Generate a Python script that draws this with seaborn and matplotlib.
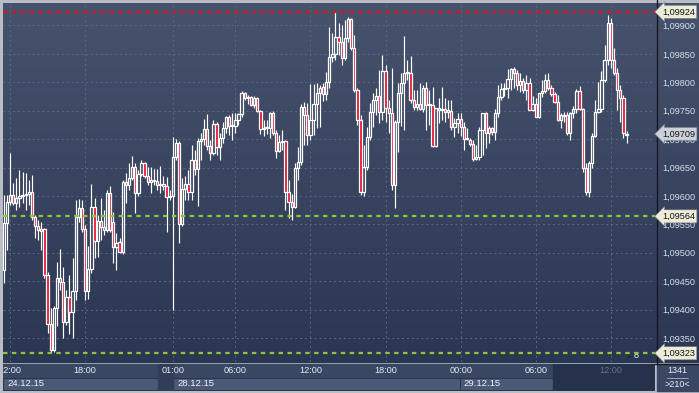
import matplotlib
matplotlib.use("Agg")
import matplotlib.pyplot as plt
import matplotlib.transforms as mtransforms
from matplotlib.colors import LinearSegmentedColormap
from matplotlib.patches import Rectangle
import numpy as np
import pandas as pd
import seaborn as sns

# ---------------- data (EURUSD-like M15 candles) ----------------
open_ = [
    1.09470, 1.09552, 1.09589, 1.09602, 1.09588, 1.09596, 1.09600, 1.09602, 1.09603, 1.09607,
    1.09563, 1.09547, 1.09538, 1.09542, 1.09461, 1.09375, 1.09329, 1.09403, 1.09455, 1.09448,
    1.09378, 1.09422, 1.09396, 1.09433, 1.09563, 1.09579, 1.09542, 1.09433, 1.09471, 1.09581,
    1.09521, 1.09556, 1.09545, 1.09540, 1.09605, 1.09554, 1.09510, 1.09519, 1.09501, 1.09624,
    1.09619, 1.09631, 1.09651, 1.09605, 1.09639, 1.09658, 1.09635, 1.09624, 1.09628, 1.09626,
    1.09619, 1.09621, 1.09617, 1.09598, 1.09600, 1.09668, 1.09693, 1.09551, 1.09612, 1.09621,
    1.09607, 1.09663, 1.09647, 1.09697, 1.09700, 1.09718, 1.09688, 1.09676, 1.09727, 1.09686,
    1.09702, 1.09720, 1.09739, 1.09723, 1.09723, 1.09734, 1.09744, 1.09781, 1.09772, 1.09774,
    1.09760, 1.09772, 1.09750, 1.09718, 1.09720, 1.09720, 1.09746, 1.09711, 1.09679, 1.09695,
    1.09697, 1.09607, 1.09589, 1.09581, 1.09649, 1.09660, 1.09757, 1.09742, 1.09707, 1.09734,
    1.09762, 1.09781, 1.09792, 1.09779, 1.09801, 1.09845, 1.09850, 1.09880, 1.09871, 1.09843,
    1.09878, 1.09912, 1.09860, 1.09786, 1.09734, 1.09607, 1.09651, 1.09704, 1.09748, 1.09769,
    1.09776, 1.09748, 1.09820, 1.09755, 1.09746, 1.09619, 1.09730, 1.09781, 1.09799, 1.09816,
    1.09816, 1.09769, 1.09757, 1.09762, 1.09753, 1.09790, 1.09760, 1.09760, 1.09688, 1.09755,
    1.09751, 1.09753, 1.09748, 1.09750, 1.09721, 1.09728, 1.09735, 1.09721, 1.09700, 1.09698,
    1.09691, 1.09665, 1.09668, 1.09716, 1.09746, 1.09711, 1.09720, 1.09712, 1.09746, 1.09774,
    1.09788, 1.09790, 1.09806, 1.09823, 1.09816, 1.09795, 1.09802, 1.09786, 1.09799, 1.09751,
    1.09762, 1.09739, 1.09781, 1.09785, 1.09804, 1.09790, 1.09779, 1.09765, 1.09734, 1.09742,
    1.09742, 1.09711, 1.09746, 1.09753, 1.09785, 1.09753, 1.09649, 1.09607, 1.09658, 1.09706,
    1.09748, 1.09753, 1.09804, 1.09839, 1.09904, 1.09839, 1.09816, 1.09786, 1.09772, 1.09707,
]
high = [
    1.09602, 1.09602, 1.09676, 1.09623, 1.09632, 1.09646, 1.09642, 1.09640, 1.09628, 1.09637,
    1.09566, 1.09558, 1.09554, 1.09543, 1.09466, 1.09403, 1.09406, 1.09484, 1.09506, 1.09475,
    1.09434, 1.09461, 1.09491, 1.09593, 1.09595, 1.09593, 1.09549, 1.09512, 1.09621, 1.09596,
    1.09566, 1.09596, 1.09575, 1.09610, 1.09617, 1.09572, 1.09535, 1.09526, 1.09628, 1.09640,
    1.09658, 1.09670, 1.09658, 1.09646, 1.09663, 1.09660, 1.09651, 1.09651, 1.09647, 1.09647,
    1.09653, 1.09635, 1.09633, 1.09610, 1.09704, 1.09700, 1.09697, 1.09631, 1.09635, 1.09646,
    1.09690, 1.09681, 1.09702, 1.09711, 1.09735, 1.09744, 1.09698, 1.09734, 1.09730, 1.09711,
    1.09730, 1.09741, 1.09742, 1.09746, 1.09746, 1.09746, 1.09785, 1.09783, 1.09778, 1.09776,
    1.09776, 1.09774, 1.09751, 1.09734, 1.09734, 1.09748, 1.09750, 1.09716, 1.09707, 1.09716,
    1.09698, 1.09628, 1.09603, 1.09658, 1.09686, 1.09762, 1.09765, 1.09764, 1.09797, 1.09797,
    1.09799, 1.09795, 1.09799, 1.09818, 1.09897, 1.09887, 1.09924, 1.09904, 1.09901, 1.09910,
    1.09915, 1.09913, 1.09883, 1.09790, 1.09742, 1.09690, 1.09721, 1.09764, 1.09781, 1.09790,
    1.09822, 1.09848, 1.09830, 1.09769, 1.09825, 1.09734, 1.09799, 1.09816, 1.09882, 1.09839,
    1.09846, 1.09786, 1.09786, 1.09799, 1.09795, 1.09801, 1.09786, 1.09792, 1.09755, 1.09772,
    1.09792, 1.09772, 1.09769, 1.09769, 1.09737, 1.09746, 1.09746, 1.09730, 1.09720, 1.09702,
    1.09698, 1.09690, 1.09721, 1.09746, 1.09748, 1.09723, 1.09721, 1.09753, 1.09795, 1.09799,
    1.09799, 1.09823, 1.09825, 1.09827, 1.09822, 1.09816, 1.09808, 1.09813, 1.09808, 1.09776,
    1.09772, 1.09781, 1.09804, 1.09815, 1.09816, 1.09795, 1.09783, 1.09778, 1.09746, 1.09748,
    1.09748, 1.09748, 1.09758, 1.09788, 1.09793, 1.09755, 1.09658, 1.09661, 1.09711, 1.09769,
    1.09801, 1.09820, 1.09866, 1.09919, 1.09913, 1.09860, 1.09825, 1.09795, 1.09778, 1.09714,
]
low = [
    1.09447, 1.09505, 1.09584, 1.09584, 1.09575, 1.09581, 1.09588, 1.09575, 1.09584, 1.09558,
    1.09526, 1.09522, 1.09505, 1.09455, 1.09359, 1.09323, 1.09325, 1.09371, 1.09434, 1.09350,
    1.09373, 1.09357, 1.09350, 1.09417, 1.09554, 1.09536, 1.09417, 1.09419, 1.09464, 1.09491,
    1.09492, 1.09522, 1.09531, 1.09536, 1.09536, 1.09482, 1.09470, 1.09500, 1.09498, 1.09588,
    1.09610, 1.09628, 1.09570, 1.09600, 1.09635, 1.09631, 1.09619, 1.09605, 1.09619, 1.09610,
    1.09605, 1.09610, 1.09536, 1.09593, 1.09399, 1.09663, 1.09517, 1.09547, 1.09593, 1.09593,
    1.09593, 1.09637, 1.09582, 1.09663, 1.09690, 1.09681, 1.09663, 1.09672, 1.09672, 1.09663,
    1.09693, 1.09711, 1.09707, 1.09698, 1.09711, 1.09725, 1.09739, 1.09769, 1.09762, 1.09758,
    1.09755, 1.09748, 1.09709, 1.09706, 1.09709, 1.09702, 1.09707, 1.09667, 1.09677, 1.09681,
    1.09575, 1.09561, 1.09558, 1.09579, 1.09628, 1.09654, 1.09690, 1.09690, 1.09698, 1.09707,
    1.09720, 1.09721, 1.09767, 1.09769, 1.09790, 1.09836, 1.09839, 1.09848, 1.09831, 1.09839,
    1.09871, 1.09857, 1.09783, 1.09725, 1.09602, 1.09600, 1.09646, 1.09698, 1.09721, 1.09742,
    1.09728, 1.09734, 1.09730, 1.09711, 1.09610, 1.09579, 1.09677, 1.09723, 1.09716, 1.09804,
    1.09764, 1.09751, 1.09751, 1.09751, 1.09748, 1.09716, 1.09725, 1.09686, 1.09686, 1.09728,
    1.09734, 1.09730, 1.09737, 1.09716, 1.09704, 1.09711, 1.09706, 1.09681, 1.09698, 1.09688,
    1.09661, 1.09663, 1.09663, 1.09672, 1.09684, 1.09693, 1.09707, 1.09698, 1.09739, 1.09769,
    1.09776, 1.09772, 1.09786, 1.09790, 1.09786, 1.09783, 1.09781, 1.09769, 1.09751, 1.09750,
    1.09739, 1.09737, 1.09774, 1.09781, 1.09786, 1.09776, 1.09764, 1.09732, 1.09720, 1.09730,
    1.09707, 1.09698, 1.09737, 1.09746, 1.09751, 1.09642, 1.09602, 1.09598, 1.09649, 1.09704,
    1.09746, 1.09748, 1.09801, 1.09831, 1.09825, 1.09813, 1.09751, 1.09730, 1.09702, 1.09693,
]
close = [
    1.09552, 1.09589, 1.09602, 1.09588, 1.09596, 1.09600, 1.09602, 1.09603, 1.09607, 1.09563,
    1.09547, 1.09540, 1.09542, 1.09461, 1.09375, 1.09329, 1.09403, 1.09455, 1.09448, 1.09378,
    1.09422, 1.09396, 1.09433, 1.09563, 1.09579, 1.09542, 1.09433, 1.09471, 1.09581, 1.09521,
    1.09556, 1.09545, 1.09540, 1.09605, 1.09540, 1.09510, 1.09517, 1.09501, 1.09624, 1.09619,
    1.09631, 1.09651, 1.09605, 1.09639, 1.09658, 1.09635, 1.09624, 1.09628, 1.09626, 1.09619,
    1.09621, 1.09617, 1.09598, 1.09600, 1.09668, 1.09693, 1.09551, 1.09612, 1.09621, 1.09607,
    1.09663, 1.09647, 1.09697, 1.09700, 1.09718, 1.09688, 1.09676, 1.09727, 1.09686, 1.09702,
    1.09720, 1.09739, 1.09723, 1.09725, 1.09734, 1.09744, 1.09781, 1.09772, 1.09774, 1.09760,
    1.09772, 1.09750, 1.09718, 1.09720, 1.09721, 1.09746, 1.09711, 1.09679, 1.09695, 1.09697,
    1.09607, 1.09589, 1.09581, 1.09649, 1.09660, 1.09757, 1.09742, 1.09707, 1.09734, 1.09762,
    1.09781, 1.09790, 1.09779, 1.09801, 1.09845, 1.09850, 1.09880, 1.09871, 1.09843, 1.09878,
    1.09912, 1.09860, 1.09786, 1.09734, 1.09607, 1.09651, 1.09704, 1.09748, 1.09769, 1.09776,
    1.09748, 1.09820, 1.09755, 1.09746, 1.09619, 1.09730, 1.09781, 1.09799, 1.09816, 1.09818,
    1.09769, 1.09757, 1.09762, 1.09753, 1.09790, 1.09760, 1.09762, 1.09688, 1.09755, 1.09751,
    1.09753, 1.09748, 1.09751, 1.09721, 1.09728, 1.09735, 1.09721, 1.09700, 1.09702, 1.09691,
    1.09665, 1.09668, 1.09716, 1.09746, 1.09711, 1.09720, 1.09712, 1.09746, 1.09774, 1.09788,
    1.09790, 1.09806, 1.09823, 1.09816, 1.09795, 1.09802, 1.09786, 1.09799, 1.09751, 1.09762,
    1.09739, 1.09781, 1.09785, 1.09804, 1.09790, 1.09779, 1.09765, 1.09734, 1.09742, 1.09741,
    1.09711, 1.09746, 1.09753, 1.09785, 1.09753, 1.09649, 1.09607, 1.09658, 1.09706, 1.09748,
    1.09753, 1.09804, 1.09839, 1.09904, 1.09839, 1.09816, 1.09786, 1.09772, 1.09711, 1.09709,
]

price_ticks = [1.09350, 1.09400, 1.09450, 1.09500, 1.09550, 1.09600,
               1.09650, 1.09700, 1.09750, 1.09800, 1.09850, 1.09900]
time_tick_pos = [2, 26, 54, 74, 98, 122, 146, 170, 194]
time_tick_labels = ["12:00", "18:00", "01:00", "06:00", "12:00",
                    "18:00", "00:00", "06:00", "12:00"]
date_pos = [1.3, 55.6, 147.0]
date_labels = ["24.12.15", "28.12.15", "29.12.15"]
level_resistance = 1.09924
level_supports = [1.09564, 1.09323]
last_price = 1.09709
bars_total_label = "1341"
bars_visible_label = ">210<"
shift_label = "8"

# ---------------- style ----------------
sns.set_theme(style="dark")
plt.rcParams["font.family"] = ["Liberation Sans", "DejaVu Sans"]

W, H = 699, 393
fig = plt.figure(figsize=(W / 100, H / 100), dpi=100, facecolor="#b8bdc6")


def frac(x0, y0, x1, y1):
    return [x0 / W, 1 - y1 / H, (x1 - x0) / W, (y1 - y0) / H]


# background (pixel coordinates)
axbg = fig.add_axes([0, 0, 1, 1], zorder=0)
axbg.set_axis_off()
grad = np.linspace(0, 1, 256).reshape(-1, 1)
cmap_bg = LinearSegmentedColormap.from_list("bg", ["#47536d", "#2b3752"])
axbg.imshow(grad, extent=(3, 699, 363, 3), aspect="auto", cmap=cmap_bg,
            interpolation="bilinear")
axbg.add_patch(Rectangle((657, 364), 42, 27, color="#3a4763"))
axbg.plot([656.5, 656.5], [0, 364], color="#131926", lw=1.0)
axbg.plot([3, 699], [363.5, 363.5], color="#131926", lw=1.0)
axbg.text(677.5, 370.5, bars_total_label, color="#e8edf5", fontsize=6.5,
          ha="center", va="center")
axbg.plot([667, 688], [377.5, 377.5], color="#a9b2c4", lw=0.6)
axbg.text(677.5, 384.5, bars_visible_label, color="#e8edf5", fontsize=6.5,
          ha="center", va="center")
axbg.text(629, 357, "\u25b2", color="#1f273b", fontsize=4.5, ha="center", va="center")
axbg.text(636.5, 356, shift_label, color="#f0f0f0", fontsize=6.5, ha="center", va="center")
axbg.set_xlim(0, W)
axbg.set_ylim(H, 0)

# main price axes
ax = fig.add_axes(frac(3, 3, 655, 362), zorder=2)
ax.set_facecolor("none")
ax.set_xlim(-0.25, 208.1)
ax.set_ylim(1.093076, 1.099396)

df = pd.DataFrame({"o": open_, "h": high, "l": low, "c": close})
df["i"] = np.arange(len(df))
df["top"] = df[["o", "c"]].max(axis=1)
df["bot"] = df[["o", "c"]].min(axis=1)
df["body"] = (df["top"] - df["bot"]).clip(lower=0.000012)
up = df["c"] >= df["o"]

ax.set_yticks(price_ticks)
ax.set_xticks(time_tick_pos)
ax.grid(True, color="#5b6783", lw=0.7, ls=(0, (2, 3)))
ax.set_axisbelow(True)

ax.vlines(df["i"], df["top"], df["h"], color="white", lw=0.85, zorder=3)
ax.vlines(df["i"], df["l"], df["bot"], color="white", lw=0.85, zorder=3)
ax.bar(df["i"][up], df["body"][up], bottom=df["bot"][up], width=0.74,
       color="none", edgecolor="white", linewidth=0.9, zorder=4)
ax.bar(df["i"][~up], df["body"][~up], bottom=df["bot"][~up], width=0.74,
       color="#e8112d", edgecolor="white", linewidth=0.9, zorder=4)

ax.axhline(level_resistance, color="#e3101c", lw=1.6, dashes=(2.0, 2.0), zorder=5)
for lv in level_supports:
    ax.axhline(lv, color="#8cc63e", lw=1.6, dashes=(2.0, 2.0), zorder=5)

for s in ax.spines.values():
    s.set_visible(False)
ax.tick_params(axis="x", length=0, labelbottom=False)
ax.yaxis.tick_right()
ax.tick_params(axis="y", length=0, pad=5, labelsize=6.6, labelcolor="#d6deeb")
ax.set_yticklabels([f"{v:.5f}".replace(".", ",") for v in price_ticks])

trans = mtransforms.blended_transform_factory(ax.transAxes, ax.transData)


def tag(v, fc):
    ax.text(1.0105, v, f"{v:.5f}".replace(".", ","), transform=trans, ha="left",
            va="center", fontsize=6.6, color="#141414", clip_on=False, zorder=10,
            bbox=dict(boxstyle="larrow,pad=0.22", fc=fc, ec="#7d828c", lw=0.4))


tag(level_resistance, "#ececd8")
for lv in level_supports:
    tag(lv, "#ececd8")
tag(last_price, "#cbd0d8")

# bottom time axis panel
axb = fig.add_axes(frac(3, 364, 655, 391), zorder=1)
axb.set_xlim(ax.get_xlim())
axb.set_ylim(0, 27)
axb.set_axis_off()
x0, x1 = ax.get_xlim()
axb.add_patch(Rectangle((x0, 0), x1 - x0, 27, color="#3a4763"))
for a, b in [(x0, 49.3), (54.1, 145.8), (145.8, 175.5)]:
    axb.add_patch(Rectangle((a, 1.5), b - a, 12.0, facecolor="#4c5976",
                            edgecolor="#2b354d", lw=0.7))
axb.add_patch(Rectangle((49.3, 0), 4.8, 27, color="#323e58"))
axb.add_patch(Rectangle((175.5, 0), x1 - 175.5, 27, color="#26314b"))
for p, t in zip(time_tick_pos, time_tick_labels):
    col = "#66738f" if p > 175.5 else "#e6ebf3"
    axb.text(p, 20.5, t, ha="center", va="center", fontsize=6.6, color=col,
             clip_on=True)
for p, t in zip(date_pos, date_labels):
    axb.text(p, 7.5, t, ha="left", va="center", fontsize=6.8, color="#eef2f8",
             clip_on=True)

fig.savefig("out.png", dpi=100, facecolor=fig.get_facecolor())
